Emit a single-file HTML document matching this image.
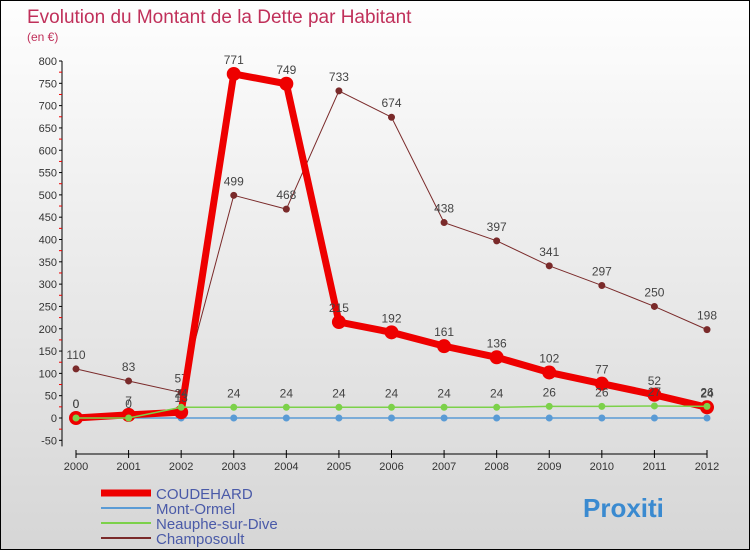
<!DOCTYPE html>
<html><head><meta charset="utf-8"><style>
body{margin:0}
#c{width:750px;height:550px;position:relative;font-family:"Liberation Sans",sans-serif;background:linear-gradient(#fefefe,#d6d6d6);border:1px solid #000;box-sizing:border-box;overflow:hidden}
</style></head><body>
<div id="c">
<svg id="s" width="750" height="550" style="position:absolute;left:0;top:0"></svg>
</div>
<script>
const years=["2000","2001","2002","2003","2004","2005","2006","2007","2008","2009","2010","2011","2012"];
const yTicks=[-50,0,50,100,150,200,250,300,350,400,450,500,550,600,650,700,750,800];
const coudehard=[0,7,13,771,749,215,192,161,136,102,77,52,24];
const montOrmel=[0,0,0,0,0,0,0,0,0,0,0,0,0];
const neauphe=[0,0,24,24,24,24,24,24,24,26,26,27,26];
const champosoult=[110,83,57,499,468,733,674,438,397,341,297,250,198];
const NS="http://www.w3.org/2000/svg";
const s=document.getElementById('s');
function X(i){return 75+i*(706-75)/(years.length-1);}
function Y(v){return 417-v*(417-60)/800;}
function el(t,a,p){const e=document.createElementNS(NS,t);for(const k in a)e.setAttribute(k,a[k]);(p||s).appendChild(e);return e;}
let t=el('text',{x:26,y:22,fill:'#c0305a','font-size':19});t.textContent='Evolution du Montant de la Dette par Habitant';

t=el('text',{x:26,y:40,fill:'#c0305a','font-size':12});t.textContent='(en €)';

let ax=el('line',{x1:61,y1:Y(800),x2:61,y2:Y(-50)+6,stroke:'#000'});

yTicks.forEach(v=>{el('line',{x1:58,x2:61,y1:Y(v),y2:Y(v),stroke:'#000'});
el('line',{x1:58,x2:61,y1:Y(v+25),y2:Y(v+25),stroke:v<800?'#e00':'none'});
const l=el('text',{x:56,y:Y(v)+4,'text-anchor':'end','font-size':11,fill:'#333'});l.textContent=v;
});
let xa=el('line',{x1:X(0),x2:X(12),y1:453,y2:453,stroke:'#000'});

years.forEach((y,i)=>{el('line',{x1:X(i),x2:X(i),y1:449,y2:457,stroke:'#000'});
const l=el('text',{x:X(i),y:469,'text-anchor':'middle','font-size':11,fill:'#333'});l.textContent=y;
});
function series(d,name,color,w,r,stroke,labels){
const g=el('g',{});
el('polyline',{points:d.map((v,i)=>X(i)+','+Y(v)).join(' '),fill:'none',stroke:color,'stroke-width':w},g);
d.forEach((v,i)=>{const c=el('circle',{cx:X(i),cy:Y(v),r:r,fill:stroke||color,stroke:color,'stroke-width':stroke?1:0},g);

if(labels){const l=el('text',{x:X(i),y:Y(v)-10,'text-anchor':'middle','font-size':12,fill:'#444'},g);l.textContent=v;}});}
series(champosoult,'champosoult-series','#7a2a2a',1,3.5,null,true);
series(montOrmel,'mont-ormel-series','#5a9bd5',1.5,3.5,null,false);
series(coudehard,'coudehard-series','#ee0000',7,7,null,true);
series(neauphe,'neauphe-series','#7cd14a',1.5,3.5,null,true);
const leg=[['COUDEHARD','#ee0000',7],['Mont-Ormel','#5a9bd5',2],['Neauphe-sur-Dive','#7cd14a',2],['Champosoult','#7a2a2a',2]];
leg.forEach((l,i)=>{const g=el('g',{});
const y=492+i*15;el('line',{x1:100,x2:150,y1:y,y2:y,stroke:l[1],'stroke-width':l[2]},g);
const tt=el('text',{x:155,y:y+6,'font-size':15,fill:'#4a5aa8'},g);tt.textContent=l[0];});
const lg=el('text',{x:582,y:516,'font-size':26,'font-weight':'bold',fill:'#3a8ad0'});lg.textContent='Proxiti';

</script>
</body></html>
